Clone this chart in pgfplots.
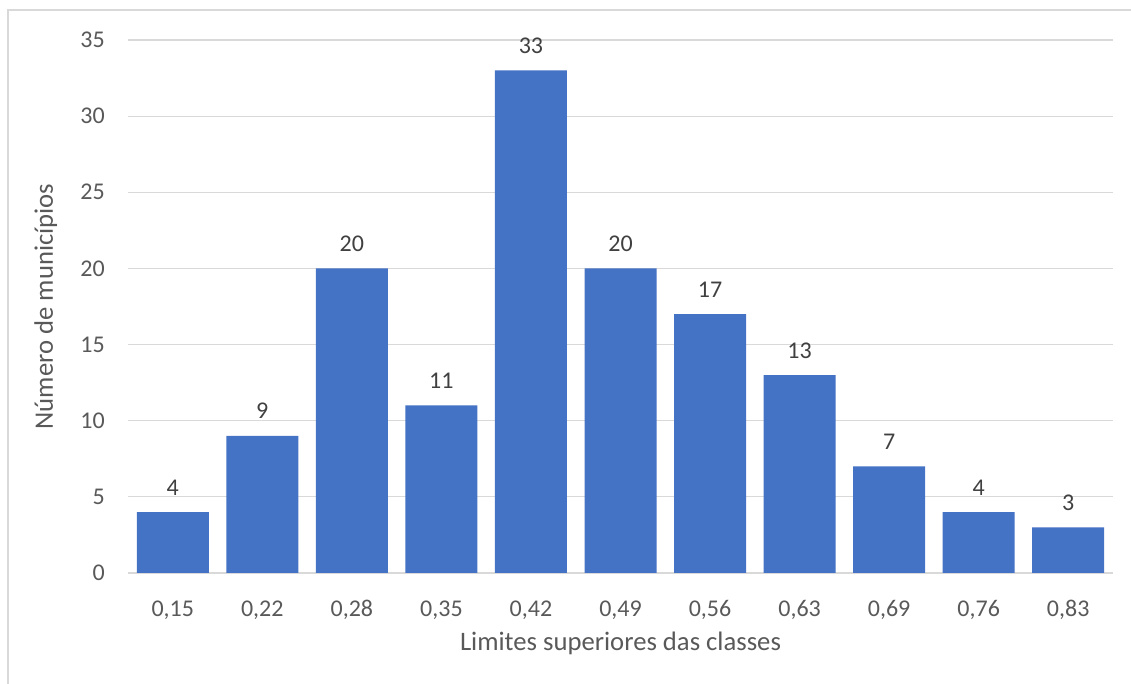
\documentclass[border=0pt]{standalone}
\usepackage{pgfplots}
\pgfplotsset{compat=1.18}
\usepackage{fontspec}
\setmainfont{Carlito}
\definecolor{barblue}{HTML}{4472C4}
\definecolor{gridgray}{HTML}{D9D9D9}
\definecolor{ticktxt}{HTML}{595959}
\definecolor{datatxt}{HTML}{404040}
\newcommand\lab{\fontsize{18}{21}\selectfont}
\newcommand\ttl{\fontsize{20}{24}\selectfont}
\begin{document}
\begin{tikzpicture}
\useasboundingbox (-96pt,-83.25pt) rectangle (752.25pt,429.75pt);
\draw[gridgray, line width=1.2pt] (-90pt,-83.25pt) -- (-90pt,422.25pt) -- (752.25pt,422.25pt);
\begin{axis}[
    scale only axis,
    width=738.75pt,
    height=399.75pt,
    /pgf/number format/assume math mode=true,
    ymin=0, ymax=35,
    ytick={0,5,...,35},
    xmin=-0.5, xmax=10.5,
    xtick=data,
    xticklabels={{0,15},{0,22},{0,28},{0,35},{0,42},{0,49},{0,56},{0,63},{0,69},{0,76},{0,83}},
    axis line style={draw=none},
    tick style={draw=none},
    ymajorgrids=true,
    major grid style={gridgray, line width=0.9pt},
    ybar,
    bar width=54pt,
    xticklabel style={font=\lab, text=ticktxt, anchor=base, inner sep=0pt, yshift=-28.5pt},
    yticklabel style={font=\lab, text=ticktxt, anchor=east, inner sep=0pt, xshift=-17.25pt},
    xlabel={Limites superiores das classes},
    ylabel={Número de municípios},
    xlabel style={font=\ttl, text=ticktxt, at={(rel axis cs:0.5,0)}, anchor=center, yshift=-52.5pt},
    ylabel style={font=\ttl, text=ticktxt, at={(rel axis cs:-0.0835,0.5)}, anchor=center},
    nodes near coords,
    nodes near coords style={font=\lab, text=datatxt, anchor=base, inner sep=0pt, yshift=12.75pt},
]
\addplot[fill=barblue, draw=none] coordinates {
    (0,4) (1,9) (2,20) (3,11) (4,33) (5,20) (6,17) (7,13) (8,7) (9,4) (10,3)
};
\end{axis}
\end{tikzpicture}
\end{document}
